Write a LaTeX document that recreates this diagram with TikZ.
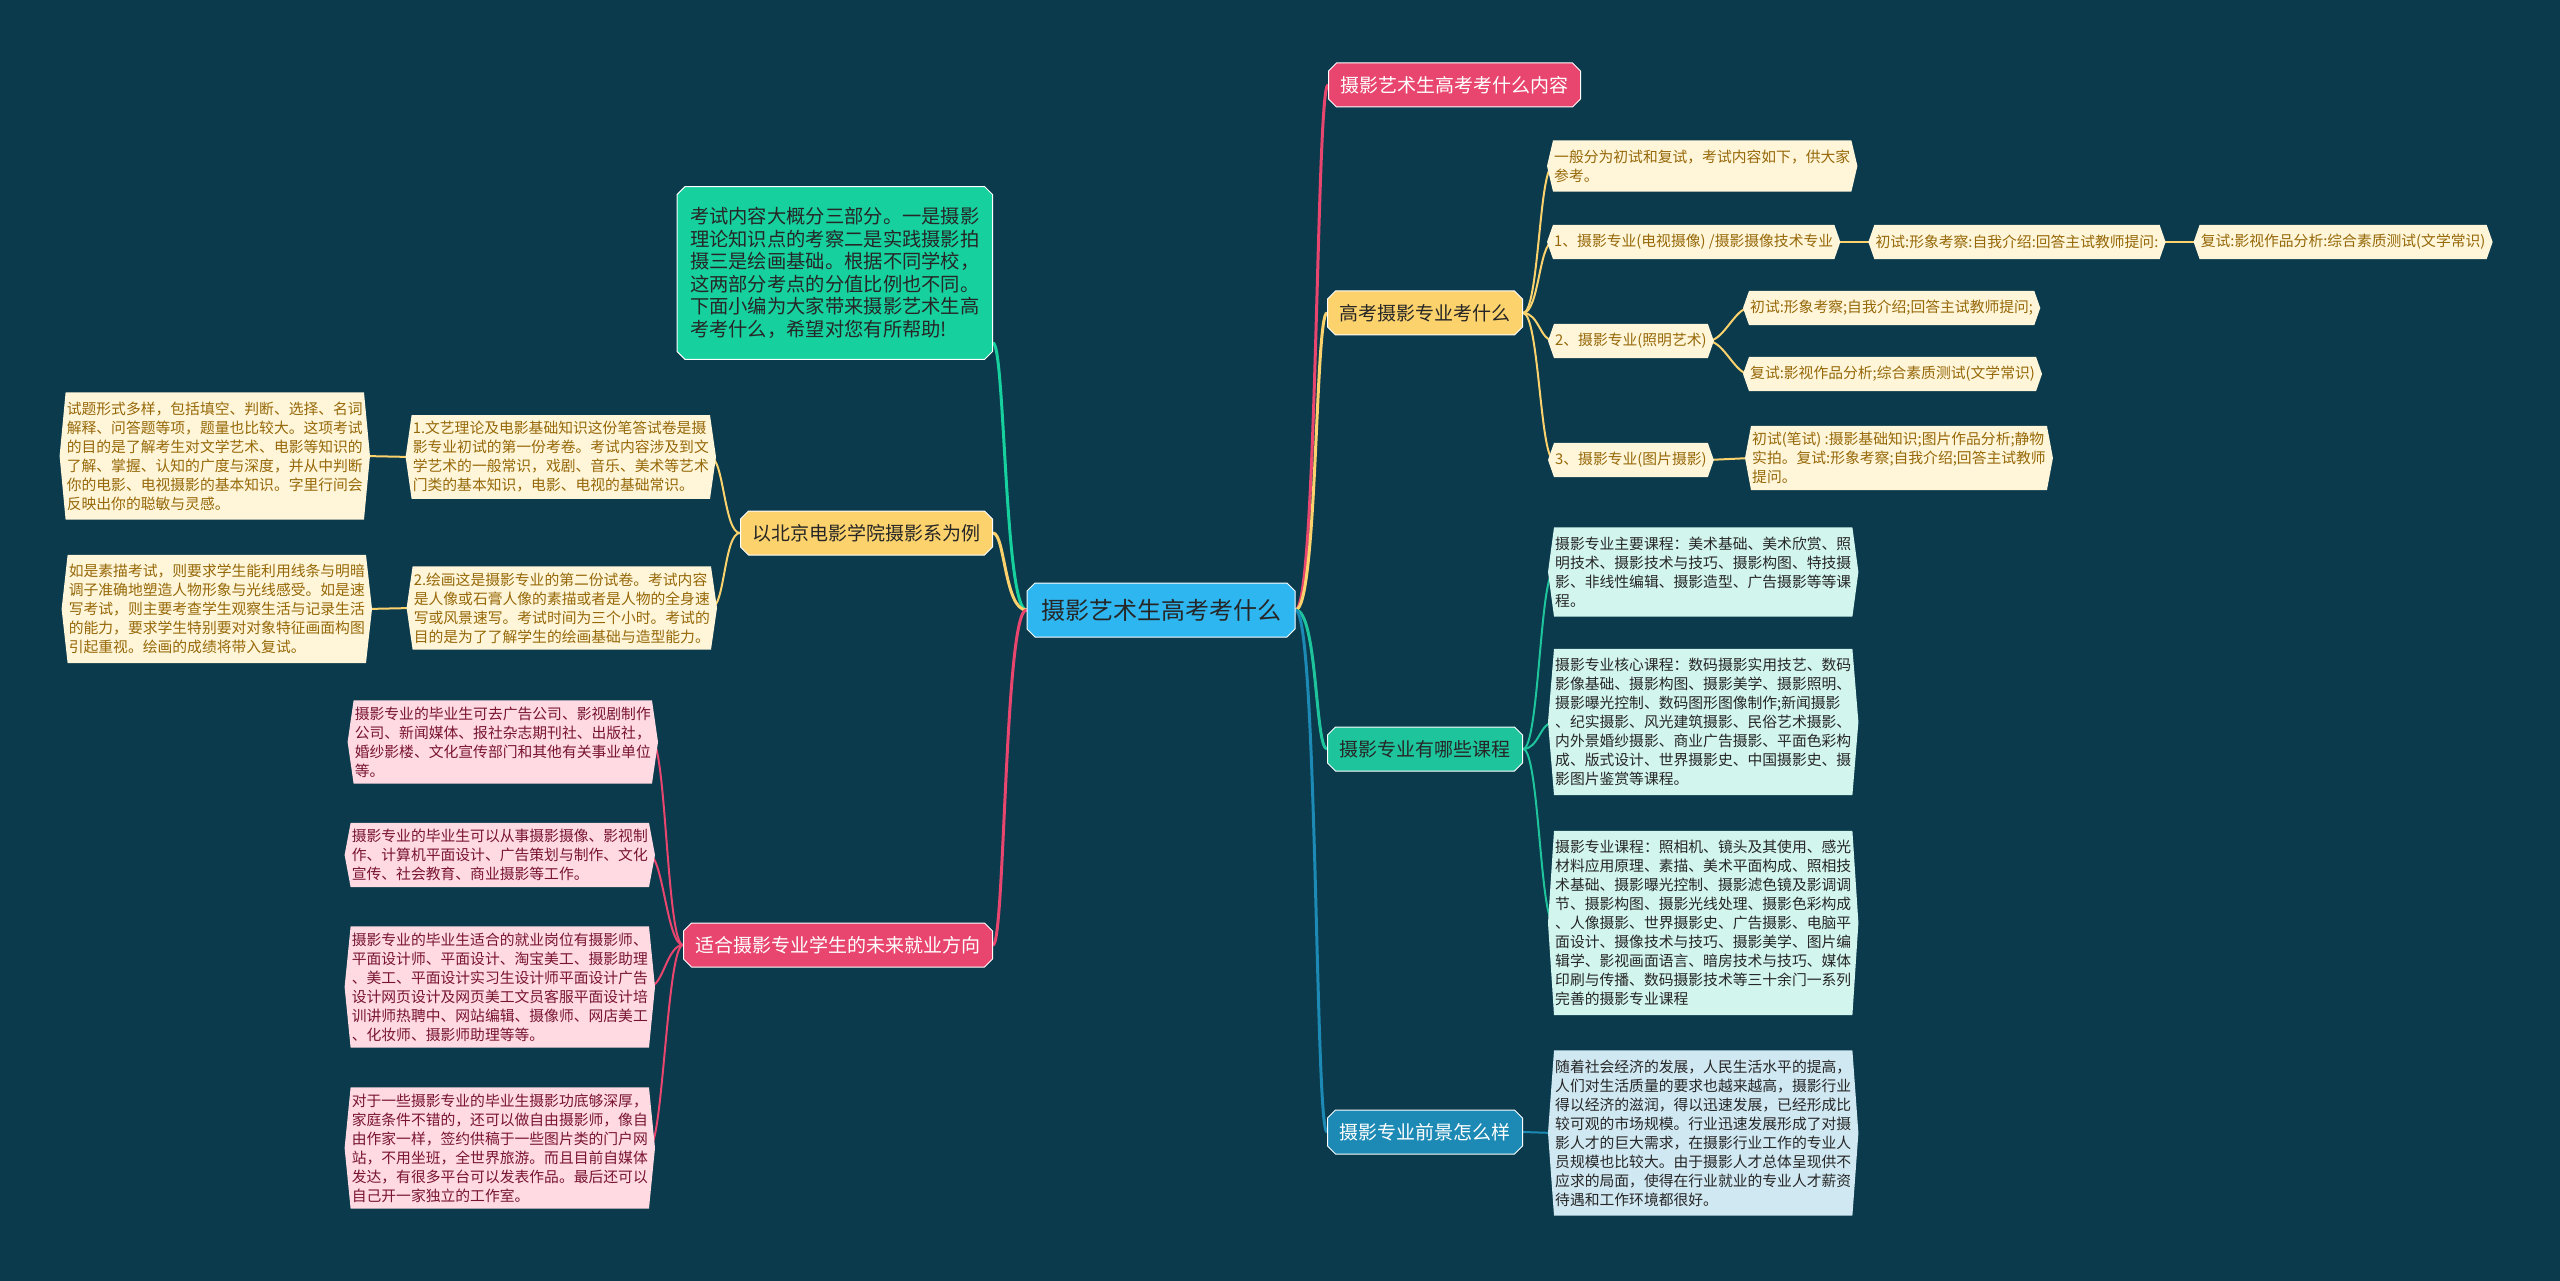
\documentclass[tikz,border=0pt]{standalone}
\usepackage{fontspec}
\newfontfamily\cjk{Noto Sans CJK SC}
\usetikzlibrary{positioning,shapes.misc,backgrounds,calc}
\definecolor{bgsea}{RGB}{10,58,76}
\definecolor{hubblue}{RGB}{45,182,240}
\definecolor{rosered}{RGB}{232,70,110}
\definecolor{sunyel}{RGB}{252,210,108}
\definecolor{mintgrn}{RGB}{30,196,156}
\definecolor{seablue}{RGB}{28,138,180}
\definecolor{jadegrn}{RGB}{22,208,158}
\definecolor{creamfill}{RGB}{255,246,218}
\definecolor{creamtext}{RGB}{150,104,8}
\definecolor{pinkfill}{RGB}{255,218,226}
\definecolor{pinktext}{RGB}{120,20,50}
\definecolor{mintfill}{RGB}{210,245,238}
\definecolor{icefill}{RGB}{208,232,242}

\begin{document}
\begin{tikzpicture}[x=1pt,y=-1pt,
  font=\cjk,
  hub/.style={chamfered rectangle,chamfered rectangle xsep=4pt,chamfered rectangle ysep=4pt,draw=white,line width=1pt,inner ysep=0pt},
  main/.style={hub,fill=hubblue,text=black!85,inner xsep=10pt,minimum height=54pt,font=\cjk\fontsize{24}{28}\selectfont},
  topic/.style={hub,inner xsep=8pt,minimum height=44pt,font=\cjk\fontsize{19}{22}\selectfont},
  leaf/.style={inner xsep=1pt,inner ysep=9pt,align=left,font=\cjk\fontsize{14.8}{19}\selectfont},
  oneline/.style={leaf,inner ysep=0pt,minimum height=34pt},
  ln/.style={line width=3pt,line cap=round},
  sub/.style={line width=2pt,line cap=round},
]
\useasboundingbox (0,0) rectangle (2560,1281);
% centre and main topics
\node[main] (ctr) at (1161,610) {摄影艺术生高考考什么};
\node[topic,fill=rosered,text=white,anchor=west] (top) at (1328,85) {摄影艺术生高考考什么内容};
\node[topic,fill=sunyel,text=black!85,anchor=west] (exam) at (1327,313) {高考摄影专业考什么};
\node[topic,fill=mintgrn,text=black!85,anchor=west] (course) at (1327,749) {摄影专业有哪些课程};
\node[topic,fill=seablue,text=white,anchor=west] (future) at (1327,1132) {摄影专业前景怎么样};
\node[hub,fill=jadegrn,text=black!85,align=left,inner xsep=9pt,inner ysep=17pt,font=\cjk\fontsize{19.3}{22.5}\selectfont,anchor=east] (intro) at (993,273)
 {考试内容大概分三部分。一是摄影\\理论知识点的考察二是实践摄影拍\\摄三是绘画基础。根据不同学校，\\这两部分考点的分值比例也不同。\\下面小编为大家带来摄影艺术生高\\考考什么，希望对您有所帮助!};
\node[topic,fill=sunyel,text=black!85,anchor=east] (bfa) at (993,533) {以北京电影学院摄影系为例};
\node[topic,fill=rosered,text=white,anchor=east] (job) at (993,945) {适合摄影专业学生的未来就业方向};
% exam branch
\node[oneline,text=creamtext,leaf,anchor=west] (exam0) at (1553,166) {一般分为初试和复试，考试内容如下，供大家\\参考。};
\node[oneline,text=creamtext,anchor=west] (exam1) at (1553,242) {1、摄影专业(电视摄像) /摄影摄像技术专业};
\node[oneline,text=creamtext,right=40pt of exam1] (exam1a) {初试:形象考察:自我介绍:回答主试教师提问:};
\node[oneline,text=creamtext,right=40pt of exam1a] (exam1b) {复试:影视作品分析:综合素质测试(文学常识)};
\node[oneline,text=creamtext,anchor=west] (exam2) at (1554,341) {2、摄影专业(照明艺术)};
\node[oneline,text=creamtext,anchor=west] (exam2a) at (1749,308) {初试:形象考察;自我介绍;回答主试教师提问;};
\node[oneline,text=creamtext,anchor=west] (exam2b) at (1749,374) {复试:影视作品分析;综合素质测试(文学常识)};
\node[oneline,text=creamtext,anchor=west] (exam3) at (1554,460) {3、摄影专业(图片摄影)};
\node[leaf,text=creamtext,inner ysep=6pt,anchor=west] (exam3a) at (1751,458)
 {初试(笔试) :摄影基础知识;图片作品分析;静物\\实拍。复试:形象考察;自我介绍;回答主试教师\\提问。};
% course branch
\node[leaf,text=black!85,anchor=west] (courseA) at (1554,572)
 {摄影专业主要课程：美术基础、美术欣赏、照\\明技术、摄影技术与技巧、摄影构图、特技摄\\影、非线性编辑、摄影造型、广告摄影等等课\\程。};
\node[leaf,text=black!85,anchor=west] (courseB) at (1554,722)
 {摄影专业核心课程：数码摄影实用技艺、数码\\影像基础、摄影构图、摄影美学、摄影照明、\\摄影曝光控制、数码图形图像制作;新闻摄影\\、纪实摄影、风光建筑摄影、民俗艺术摄影、\\内外景婚纱摄影、商业广告摄影、平面色彩构\\成、版式设计、世界摄影史、中国摄影史、摄\\影图片鉴赏等课程。};
\node[leaf,text=black!85,anchor=west] (courseC) at (1554,923)
 {摄影专业课程：照相机、镜头及其使用、感光\\材料应用原理、素描、美术平面构成、照相技\\术基础、摄影曝光控制、摄影滤色镜及影调调\\节、摄影构图、摄影光线处理、摄影色彩构成\\、人像摄影、世界摄影史、广告摄影、电脑平\\面设计、摄像技术与技巧、摄影美学、图片编\\辑学、影视画面语言、暗房技术与技巧、媒体\\印刷与传播、数码摄影技术等三十余门一系列\\完善的摄影专业课程};
% future branch
\node[leaf,text=black!85,anchor=west] (futureA) at (1554,1133)
 {随着社会经济的发展，人民生活水平的提高，\\人们对生活质量的要求也越来越高，摄影行业\\得以经济的滋润，得以迅速发展，已经形成比\\较可观的市场规模。行业迅速发展形成了对摄\\影人才的巨大需求，在摄影行业工作的专业人\\员规模也比较大。由于摄影人才总体呈现供不\\应求的局面，使得在行业就业的专业人才薪资\\待遇和工作环境都很好。};
% beijing film academy branch
\node[leaf,text=creamtext,inner ysep=6pt,anchor=east] (bfaA) at (710,457)
 {1.文艺理论及电影基础知识这份笔答试卷是摄\\影专业初试的第一份考卷。考试内容涉及到文\\学艺术的一般常识，戏剧、音乐、美术等艺术\\门类的基本知识，电影、电视的基础常识。};
\node[leaf,text=creamtext,anchor=east] (bfaAd) at (364,456)
 {试题形式多样，包括填空、判断、选择、名词\\解释、问答题等项，题量也比较大。这项考试\\的目的是了解考生对文学艺术、电影等知识的\\了解、掌握、认知的广度与深度，并从中判断\\你的电影、电视摄影的基本知识。字里行间会\\反映出你的聪敏与灵感。};
\node[leaf,text=creamtext,inner ysep=6pt,anchor=east] (bfaB) at (711,608)
 {2.绘画这是摄影专业的第二份试卷。考试内容\\是人像或石膏人像的素描或者是人物的全身速\\写或风景速写。考试时间为三个小时。考试的\\目的是为了了解学生的绘画基础与造型能力。};
\node[leaf,text=creamtext,anchor=east] (bfaBd) at (366,609)
 {如是素描考试，则要求学生能利用线条与明暗\\调子准确地塑造人物形象与光线感受。如是速\\写考试，则主要考查学生观察生活与记录生活\\的能力，要求学生特别要对对象特征画面构图\\引起重视。绘画的成绩将带入复试。};
% jobs branch
\node[leaf,text=pinktext,inner ysep=6pt,anchor=east] (jobA) at (652,742)
 {摄影专业的毕业生可去广告公司、影视剧制作\\公司、新闻媒体、报社杂志期刊社、出版社，\\婚纱影楼、文化宣传部门和其他有关事业单位\\等。};
\node[leaf,text=pinktext,inner ysep=6pt,anchor=east] (jobB) at (649,855)
 {摄影专业的毕业生可以从事摄影摄像、影视制\\作、计算机平面设计、广告策划与制作、文化\\宣传、社会教育、商业摄影等工作。};
\node[leaf,text=pinktext,inner ysep=6pt,anchor=east] (jobC) at (649,987)
 {摄影专业的毕业生适合的就业岗位有摄影师、\\平面设计师、平面设计、淘宝美工、摄影助理\\、美工、平面设计实习生设计师平面设计广告\\设计网页设计及网页美工文员客服平面设计培\\训讲师热聘中、网站编辑、摄像师、网店美工\\、化妆师、摄影师助理等等。};
\node[leaf,text=pinktext,inner ysep=6pt,anchor=east] (jobD) at (649,1148)
 {对于一些摄影专业的毕业生摄影功底够深厚，\\家庭条件不错的，还可以做自由摄影师，像自\\由作家一样，签约供稿于一些图片类的门户网\\站，不用坐班，全世界旅游。而且目前自媒体\\发达，有很多平台可以发表作品。最后还可以\\自己开一家独立的工作室。};

\begin{scope}[on background layer]
\fill[bgsea] (0,0) rectangle (2560,1281);
% trunk lines
\draw[ln,rosered] (ctr.east) .. controls +(22,0) and +(-12,0) .. (top.west);
\draw[ln,sunyel] (ctr.east) .. controls +(22,0) and +(-12,0) .. (exam.west);
\draw[ln,mintgrn] (ctr.east) .. controls +(22,0) and +(-12,0) .. (course.west);
\draw[ln,seablue] (ctr.east) .. controls +(22,0) and +(-12,0) .. (future.west);
\draw[ln,jadegrn] (ctr.west) .. controls +(-22,0) and +(12,0) .. ($(intro.east)+(0,70)$);
\draw[ln,sunyel] (ctr.west) .. controls +(-22,0) and +(12,0) .. (bfa.east);
\draw[ln,rosered] (ctr.west) .. controls +(-22,0) and +(12,0) .. (job.east);
% branch lines
\foreach \n in {exam0,exam1,exam2,exam3}
  \draw[sub,sunyel] (exam.east) .. controls +(16,0) and +(-14,0) .. (\n.west);
\draw[sub,sunyel] (exam1.east) -- (exam1a.west); \draw[sub,sunyel] (exam1a.east) -- (exam1b.west);
\foreach \n in {exam2a,exam2b}
  \draw[sub,sunyel] (exam2.east) .. controls +(16,0) and +(-14,0) .. (\n.west);
\draw[sub,sunyel] (exam3.east) -- (exam3a.west);
\foreach \n in {courseA,courseB,courseC}
  \draw[sub,mintgrn] (course.east) .. controls +(16,0) and +(-14,0) .. (\n.west);
\draw[sub,seablue] (future.east) -- (futureA.west);
\foreach \n in {bfaA,bfaB}
  \draw[sub,sunyel] (bfa.west) .. controls +(-16,0) and +(14,0) .. (\n.east);
\draw[sub,sunyel] (bfaA.west) -- (bfaAd.east); \draw[sub,sunyel] (bfaB.west) -- (bfaBd.east);
\foreach \n in {jobA,jobB,jobC,jobD}
  \draw[sub,rosered] (job.west) .. controls +(-16,0) and +(14,0) .. (\n.east);
% pointed leaf boxes
\foreach \n/\c in {exam0/creamfill,exam1/creamfill,exam1a/creamfill,exam1b/creamfill,
    exam2/creamfill,exam2a/creamfill,exam2b/creamfill,exam3/creamfill,exam3a/creamfill,
    bfaA/creamfill,bfaAd/creamfill,bfaB/creamfill,bfaBd/creamfill,
    jobA/pinkfill,jobB/pinkfill,jobC/pinkfill,jobD/pinkfill,
    courseA/mintfill,courseB/mintfill,courseC/mintfill,futureA/icefill}
  \fill[\c] (\n.north west) -- (\n.north east) -- ([xshift=6pt]\n.east) -- (\n.south east)
    -- (\n.south west) -- ([xshift=-6pt]\n.west) -- cycle;
\end{scope}
\end{tikzpicture}
\end{document}
